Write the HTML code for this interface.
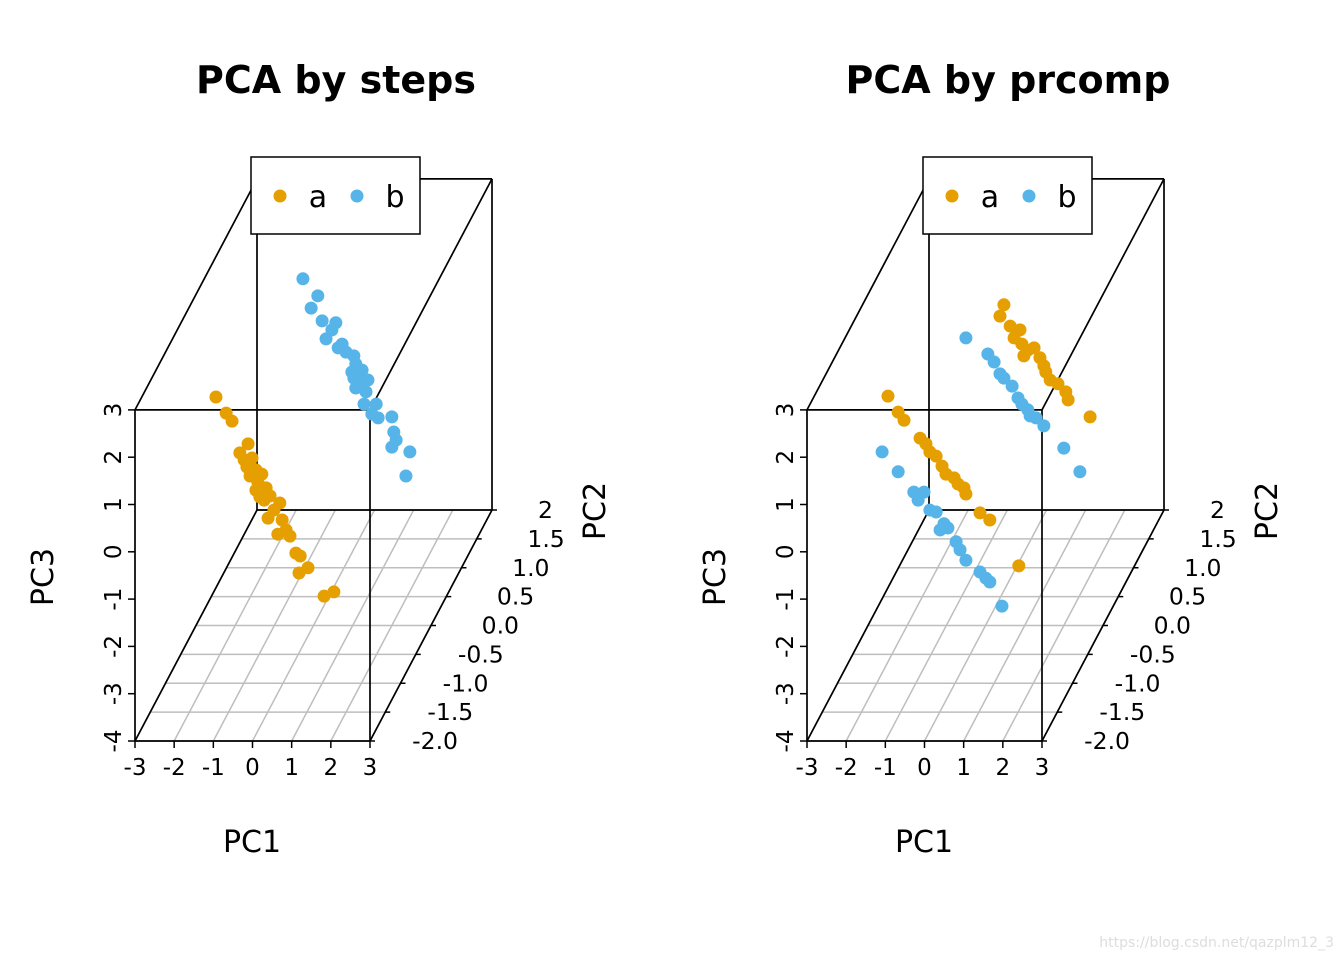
<!DOCTYPE html>
<html><head><meta charset="utf-8"><style>
html,body{margin:0;padding:0;background:#fff;}
svg text{font-family:"DejaVu Sans","Liberation Sans",sans-serif;}
</style></head><body>
<svg id="chart" width="1344" height="960" xmlns="http://www.w3.org/2000/svg"></svg>
<script>
// ---- data ----
const pc1Ticks = [-3,-2,-1,0,1,2,3];
const pc3Ticks = [-4,-3,-2,-1,0,1,2,3];
const pc2Ticks = [-2,-1.5,-1,-0.5,0,0.5,1,1.5,2];
const pc2Labels = ["-2.0","-1.5","-1.0","-0.5","0.0","0.5","1.0","1.5","2"];
const panelTitles = ["PCA by steps","PCA by prcomp"];
const groupNames = ["a","b"];

const stepsA_pc1 = [-2.49,-2.23,-2.08,-1.67,-1.88,-1.77,-1.57,-1.70,-1.47,-1.62,-1.32,-1.42,-1.21,-1.37,-1.11,-0.86,-1.01,-1.16,-0.80,-0.70,-0.91,-0.60,-0.45,-0.34,-0.14,-0.37,0.27,0.52,-1.26,-1.47];
const stepsA_pc3 = [0.83,0.49,0.32,-0.16,-0.35,-0.50,-0.46,-0.65,-0.71,-0.84,-0.80,-0.97,-1.09,-1.28,-1.26,-1.41,-1.56,-1.73,-1.77,-1.98,-2.07,-2.11,-2.47,-2.53,-2.78,-2.89,-3.38,-3.29,-1.35,-1.14];
const stepsB_pc1 = [-0.27,0.11,-0.06,0.22,0.57,0.47,0.32,0.73,0.83,0.63,1.03,1.08,0.98,1.24,1.14,1.39,1.08,1.34,1.60,1.29,1.49,2.00,1.65,2.05,2.11,2.00,2.46,2.36,1.19,1.03];
const stepsB_pc3 = [3.33,2.97,2.71,2.44,2.40,2.25,2.06,1.95,1.78,1.87,1.70,1.53,1.36,1.40,1.19,1.19,1.02,0.94,0.68,0.68,0.47,0.41,0.39,0.09,-0.08,-0.23,-0.33,-0.84,1.08,1.23];
const prcompA_pc1 = [0.47,0.37,0.63,0.88,0.73,0.93,1.08,1.24,0.98,1.39,1.49,1.54,1.65,1.85,2.05,2.11,2.67,-2.49,-2.23,-2.08,-1.67,-1.52,-1.42,-1.26,-1.11,-1.01,-0.80,-0.70,-0.55,-0.50,-0.14,0.11,0.85];
const prcompA_pc3 = [2.78,2.54,2.33,2.25,2.08,1.95,1.82,1.87,1.70,1.66,1.49,1.36,1.19,1.11,0.94,0.77,0.41,0.85,0.51,0.34,-0.04,-0.16,-0.33,-0.42,-0.63,-0.80,-0.88,-1.01,-1.09,-1.22,-1.62,-1.77,-2.74];
const prcompB_pc1 = [-0.50,0.06,0.22,0.37,0.47,0.68,0.83,0.93,1.08,1.14,1.29,1.49,2.00,2.41,-2.64,-2.23,-1.83,-1.72,-1.57,-1.42,-1.26,-1.06,-1.16,-0.96,-0.75,-0.65,-0.50,-0.14,0.01,0.11,0.42];
const prcompB_pc3 = [2.08,1.74,1.57,1.32,1.23,1.06,0.81,0.68,0.56,0.43,0.39,0.22,-0.25,-0.75,-0.33,-0.75,-1.18,-1.35,-1.18,-1.56,-1.60,-1.85,-1.98,-1.94,-2.23,-2.40,-2.62,-2.87,-3.00,-3.08,-3.59];
const pc2Value = 0;

const colA = "#E69F00", colB = "#56B4E9";
const NS = "http://www.w3.org/2000/svg";
const svg = document.getElementById('chart');
function mk(tag, attrs, parent){const e=document.createElementNS(NS,tag);for(const k in attrs)e.setAttribute(k,attrs[k]);(parent||svg).appendChild(e);return e;}

function panel(idx, series){
  const x0 = 135 + idx*672, W = 235, yBot = 741, zScale = 47.3, DX = 122, DY = 231;
  const g = mk('g',{});
  
  
  const fx = (p1,p2)=> x0 + (p1+3)/6*W + (p2+2)/4*DX;
  const fy = (p3,p2)=> yBot - (p3+4)*zScale - (p2+2)/4*DY;
  pc2Ticks.forEach(t=>{ const l=mk('line',{x1:fx(-3,t),y1:fy(-4,t),x2:fx(3,t),y2:fy(-4,t),stroke:'#bebebe','stroke-width':1.5},g);
     });
  pc1Ticks.forEach(t=>{ const l=mk('line',{x1:fx(t,-2),y1:fy(-4,-2),x2:fx(t,2),y2:fy(-4,2),stroke:'#bebebe','stroke-width':1.5},g);
     });
  const L = (a,b,c,d)=>{const l=mk('line',{x1:a,y1:b,x2:c,y2:d,stroke:'#000','stroke-width':1.7},g);
     };
  const xl=fx(-3,-2), xr=fx(3,-2), yt=fy(3,-2), yb=fy(-4,-2);
  L(xl,yt,xr,yt); L(xl,yb,xr,yb); L(xl,yt,xl,yb); L(xr,yt,xr,yb);
  L(xl,yt,xl+DX,yt-DY); L(xr,yt,xr+DX,yt-DY); L(xr,yb,xr+DX,yb-DY); L(xl,yb,xl+DX,yb-DY);
  L(xl+DX,yt-DY,xr+DX,yt-DY); L(xr+DX,yt-DY,xr+DX,yb-DY); L(xl+DX,yb-DY,xr+DX,yb-DY); L(xl+DX,yt-DY,xl+DX,yb-DY);
  pc1Ticks.forEach(t=>{ const x=fx(t,-2);
    const l=mk('line',{x1:x,y1:yb,x2:x,y2:yb+7,stroke:'#000','stroke-width':1.5},g);
     
    const tx=mk('text',{x:x,y:yb+34,'font-size':23,'text-anchor':'middle'},g); tx.textContent=t;
     });
  pc3Ticks.forEach(t=>{ const y=fy(t,-2);
    const l=mk('line',{x1:xl,y1:y,x2:xl-7,y2:y,stroke:'#000','stroke-width':1.5},g);
     
    const tx=mk('text',{x:0,y:0,'font-size':23,'text-anchor':'middle',transform:`translate(${xl-14},${y}) rotate(-90)`},g); tx.textContent=t;
     });
  pc2Ticks.forEach((t,i)=>{ const x=fx(3,t), y=fy(-4,t);
    const l=mk('line',{x1:x,y1:y,x2:x+5,y2:y,stroke:'#000','stroke-width':1.5},g);
     
    const tx=mk('text',{x:x+(i===8?61:88),y:y+8,'font-size':23.5,'text-anchor':'end'},g); tx.textContent=pc2Labels[i];
     });
  let t=mk('text',{x:x0+117,y:852,'font-size':30,'text-anchor':'middle'},g); t.textContent='PC1';
   
  t=mk('text',{x:0,y:0,'font-size':30,'text-anchor':'middle',transform:`translate(${x0-82},577) rotate(-90)`},g); t.textContent='PC3';
   
  t=mk('text',{x:0,y:0,'font-size':30,'text-anchor':'middle',transform:`translate(${x0+470},511) rotate(-90)`},g); t.textContent='PC2';
   
  t=mk('text',{x:x0+201,y:93,'font-size':38,'font-weight':'bold','text-anchor':'middle'},g); t.textContent=panelTitles[idx];
   
  series.forEach(s=>{ s.p1.forEach((v,i)=>{
    const c=mk('circle',{cx:fx(v,pc2Value),cy:fy(s.p3[i],pc2Value),r:6.5,fill:s.col},g);
     });});
  const lg=mk('g',{},g);
   
  mk('rect',{x:x0+116,y:157,width:169,height:77,fill:'#fff',stroke:'#000','stroke-width':1.5},lg);
  [[colA,groupNames[0],145],[colB,groupNames[1],222]].forEach(([c,n,dx])=>{
    const e=mk('g',{},lg);
     
    mk('circle',{cx:x0+dx,cy:196,r:6.5,fill:c},e);
    const tt=mk('text',{x:x0+dx+38,y:207,'font-size':30,'text-anchor':'middle'},e); tt.textContent=n;
  });
}
panel(0,[{p1:stepsA_pc1,p3:stepsA_pc3,col:colA,name:'a'},{p1:stepsB_pc1,p3:stepsB_pc3,col:colB,name:'b'}]);
panel(1,[{p1:prcompA_pc1,p3:prcompA_pc3,col:colA,name:'a'},{p1:prcompB_pc1,p3:prcompB_pc3,col:colB,name:'b'}]);
const wm=mk('text',{x:1334,y:947,'font-size':14,'text-anchor':'end',fill:'#dddddd'});
wm.textContent='https://blog.csdn.net/qazplm12_3';


</script>
</body></html>
